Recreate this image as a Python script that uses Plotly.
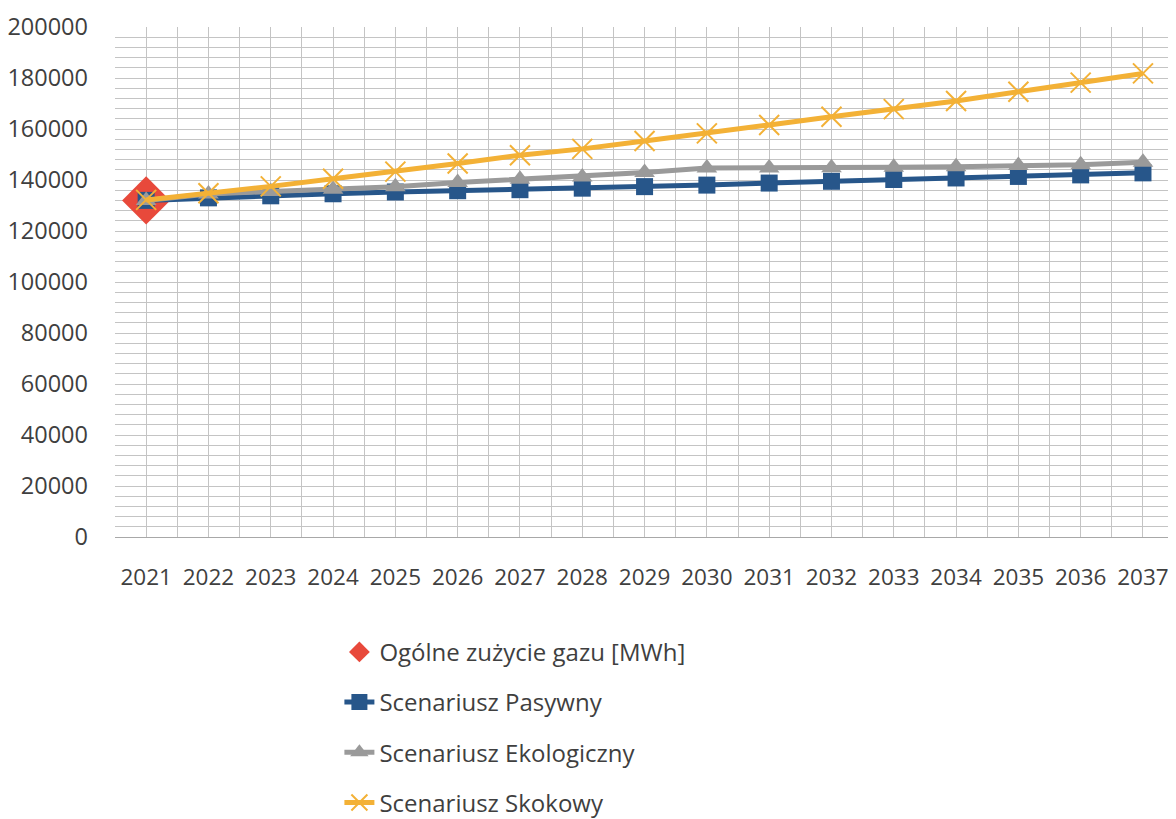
import plotly.graph_objects as go

years = list(range(2021, 2038))
ogolne_years = [2021]
ogolne = [132000]
pasywny = [132000, 133000, 133800, 134600, 135300, 135800, 136200, 136800, 137400,
           138000, 138800, 139500, 140200, 140800, 141400, 142000, 142800]
ekologiczny = [132000, 134500, 135500, 136400, 137400, 139000, 140300, 141200, 142900,
               144700, 144700, 144800, 145000, 145200, 145700, 146000, 147000]
skokowy = [132200, 134800, 137500, 140500, 143300, 146500, 149700, 152200, 155300,
           158300, 161600, 164800, 167800, 171000, 174600, 178200, 181800]
y_ticks = list(range(0, 200001, 20000))

fig = go.Figure()
fig.add_trace(go.Scatter(x=ogolne_years, y=ogolne, mode="markers",
                         name="Ogólne zużycie gazu [MWh]", legendgroup="a",
                         marker=dict(symbol="diamond", size=37, color="#E8493B")))
fig.add_trace(go.Scatter(x=years, y=pasywny, mode="lines+markers",
                         name="Scenariusz Pasywny", legendgroup="b",
                         line=dict(color="#27568A", width=5),
                         marker=dict(symbol="square", size=17, color="#27568A")))
fig.add_trace(go.Scatter(x=years, y=ekologiczny, mode="lines+markers",
                         name="Scenariusz Ekologiczny", legendgroup="c",
                         line=dict(color="#9A9A9A", width=5),
                         marker=dict(symbol="triangle-up", size=18, color="#9A9A9A")))
fig.add_trace(go.Scatter(x=years, y=skokowy, mode="lines+markers",
                         name="Scenariusz Skokowy", legendgroup="d",
                         line=dict(color="#F3B136", width=5),
                         marker=dict(symbol="x-thin-open", size=20,
                                     line=dict(color="#F3B136", width=2))))

grid_c = "#C4C4C4"
fig.update_layout(
    width=1176, height=840,
    margin=dict(l=107, r=8, t=19, b=311, autoexpand=False),
    paper_bgcolor="white", plot_bgcolor="white",
    font=dict(family="Open Sans, Noto Sans, sans-serif", size=23, color="#3F3F3F"),
    showlegend=True,
    legend=dict(x=0.2115, y=-0.182, xanchor="left", yanchor="top",
                orientation="v", tracegroupgap=16,
                font=dict(size=24, color="#3F3F3F")),
    xaxis=dict(range=[2020.5, 2037.53], tickvals=years, ticktext=[str(y) for y in years],
               showgrid=True, gridcolor=grid_c, gridwidth=1, zeroline=False,
               showline=True, linecolor="#A8A8A8", linewidth=1, ticks="",
               tickfont=dict(size=22.5), ticklabelstandoff=20, automargin=False,
               ticklabeloverflow="allow",
               minor=dict(tickvals=[y + 0.5 for y in range(2020, 2038)],
                          showgrid=True, gridcolor=grid_c, gridwidth=1)),
    yaxis=dict(range=[0, 200000], tickvals=y_ticks, ticktext=[str(v) for v in y_ticks],
               showgrid=True, gridcolor=grid_c, gridwidth=1, zeroline=False,
               showline=False, ticks="", tickfont=dict(size=23.5), ticklabelstandoff=26,
               automargin=False,
               minor=dict(dtick=4000, showgrid=True, gridcolor=grid_c, gridwidth=1)),
)
fig.write_html("out.html")
